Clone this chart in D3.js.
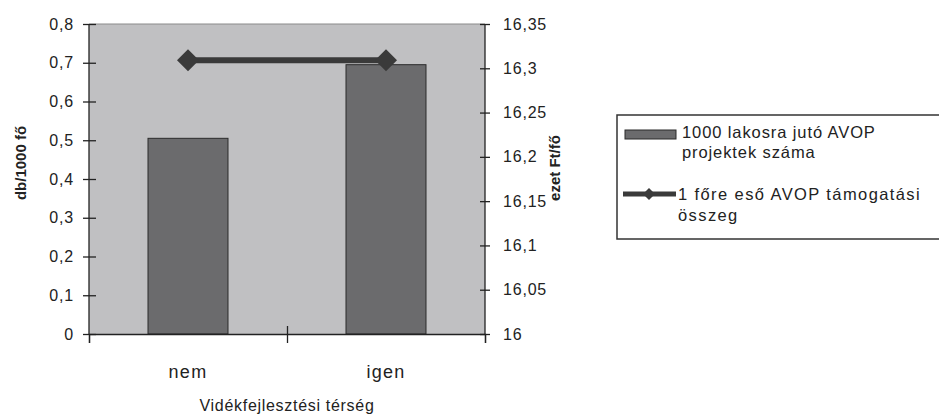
<!DOCTYPE html>
<html><head><meta charset="utf-8">
<script src="https://cdn.jsdelivr.net/npm/d3@7"></script>
<style>body{margin:0;background:#fff}svg{display:block;font-family:"Liberation Sans",Arial,sans-serif}</style>
</head><body><svg id="c" width="939" height="419"></svg>
<script>
const categories = ["nem", "igen"];
const projectsPer1000 = [0.505, 0.695];
const supportPerCapita = [16.309, 16.309];
const leftTicks = [0, 0.1, 0.2, 0.3, 0.4, 0.5, 0.6, 0.7, 0.8];
const rightTicks = [16, 16.05, 16.1, 16.15, 16.2, 16.25, 16.3, 16.35];
const legendLabels = [["1000 lakosra jutó AVOP", "projektek száma"], ["1 főre eső AVOP támogatási", "összeg"]];
const xTitle = "Vidékfejlesztési térség";
const yLeftTitle = "db/1000 fő";
const yRightTitle = "ezet Ft/fő";

const svg = d3.select("#c");
const L = 89, R = 485, T = 24, B = 334;
const fmt = v => String(+v.toFixed(2)).replace(".", ",");

const x = d3.scaleBand().domain(categories).range([L, R]).paddingInner(0.596).paddingOuter(0.298);
const yL = d3.scaleLinear().domain([0, 0.8]).range([B, T]);
const yR = d3.scaleLinear().domain([16, 16.35]).range([B, T]);

svg.append("rect").attr("x", L).attr("y", T).attr("width", R - L).attr("height", B - T).attr("fill", "#c0c0c2");
svg.append("line").attr("x1", L).attr("x2", R).attr("y1", T).attr("y2", T).attr("stroke", "#8a8a8a");

svg.selectAll(".bar").data(categories).join("rect")
  .attr("x", d => x(d)).attr("width", x.bandwidth())
  .attr("y", (d, i) => yL(projectsPer1000[i])).attr("height", (d, i) => B - yL(projectsPer1000[i]))
  .attr("fill", "#6b6b6d").attr("stroke", "#2b2b2b").attr("stroke-width", 1);

const cx = d => x(d) + x.bandwidth() / 2;
svg.append("path").datum(categories)
  .attr("d", d3.line().x(d => cx(d)).y((d, i) => yR(supportPerCapita[i])))
  .attr("fill", "none").attr("stroke", "#3a3a3a").attr("stroke-width", 6);
svg.selectAll(".mk").data(categories).join("path")
  .attr("transform", (d, i) => `translate(${cx(d)},${yR(supportPerCapita[i])})`)
  .attr("d", "M0,-11L11,0L0,11L-11,0Z").attr("fill", "#3a3a3a");

// axes
const axL = svg.append("g").attr("transform", `translate(${L},0)`)
  .call(d3.axisLeft(yL).tickValues(leftTicks).tickFormat(fmt).tickSize(6).tickPadding(9));
axL.selectAll(".tick line").attr("x1", 7);
const axR = svg.append("g").attr("transform", `translate(${R},0)`)
  .call(d3.axisRight(yR).tickValues(rightTicks).tickFormat(fmt).tickSize(5).tickPadding(13));
axR.selectAll(".tick line").attr("x1", -5);
const xb = d3.scaleLinear().domain([0, 2]).range([L, R]);
const axB = svg.append("g").attr("transform", `translate(0,${B})`)
  .call(d3.axisBottom(xb).tickValues([0, 1, 2]).tickFormat("").tickSize(9));
axB.selectAll(".tick line").attr("y1", (d) => d === 1 ? -8 : 0);
[axL, axR, axB].forEach(a => {
  a.select(".domain").attr("stroke", "#222").attr("stroke-width", 1.3);
  a.selectAll(".tick line").attr("stroke", "#222").attr("stroke-width", 1.3);
  a.selectAll("text").attr("font-size", 16).attr("fill", "#222").attr("font-family", "Liberation Sans, Arial").style("letter-spacing", "0.8px");
});
axL.select(".domain").attr("d", `M0,${T}V${B}`);
axR.select(".domain").attr("d", `M0,${T}V${B}`);

// category labels
svg.selectAll(".cl").data(categories).join("text")
  .attr("x", d => cx(d)).attr("y", 378).attr("text-anchor", "middle")
  .attr("font-size", 18).attr("fill", "#222").style("letter-spacing", "1.3px").text(d => d);
svg.append("text").attr("x", 287).attr("y", 411).attr("text-anchor", "middle")
  .attr("font-size", 16).attr("fill", "#222").style("letter-spacing", "0.7px").text(xTitle);

svg.append("text").attr("transform", "translate(26,163) rotate(-90)").attr("text-anchor", "middle")
  .attr("font-size", 15).attr("font-weight", "bold").attr("fill", "#222").text(yLeftTitle);
svg.append("text").attr("transform", "translate(560,168) rotate(-90)").attr("text-anchor", "middle")
  .attr("font-size", 15).attr("font-weight", "bold").attr("fill", "#222").text(yRightTitle);

// legend
const lg = svg.append("g");
lg.append("rect").attr("x", 617).attr("y", 115).attr("width", 340).attr("height", 124)
  .attr("fill", "#fff").attr("stroke", "#333").attr("stroke-width", 1.5);
lg.append("rect").attr("x", 625).attr("y", 130).attr("width", 51).attr("height", 9)
  .attr("fill", "#6b6b6d").attr("stroke", "#2b2b2b");
lg.append("line").attr("x1", 623).attr("x2", 676).attr("y1", 194).attr("y2", 194)
  .attr("stroke", "#3a3a3a").attr("stroke-width", 5);
lg.append("path").attr("transform", "translate(649,194)").attr("d", "M0,-6L6,0L0,6L-6,0Z").attr("fill", "#3a3a3a");
const ly = [[138, 158], [200, 221]];
const lx = [682, 678];
const lsp = ["0.9px", "1.4px"];
legendLabels.forEach((lines, i) => lines.forEach((t, j) => {
  lg.append("text").attr("x", lx[i]).attr("y", ly[i][j]).attr("font-size", 16.5).attr("fill", "#222")
    .style("letter-spacing", lsp[i]).text(t);
}));
</script></body></html>
